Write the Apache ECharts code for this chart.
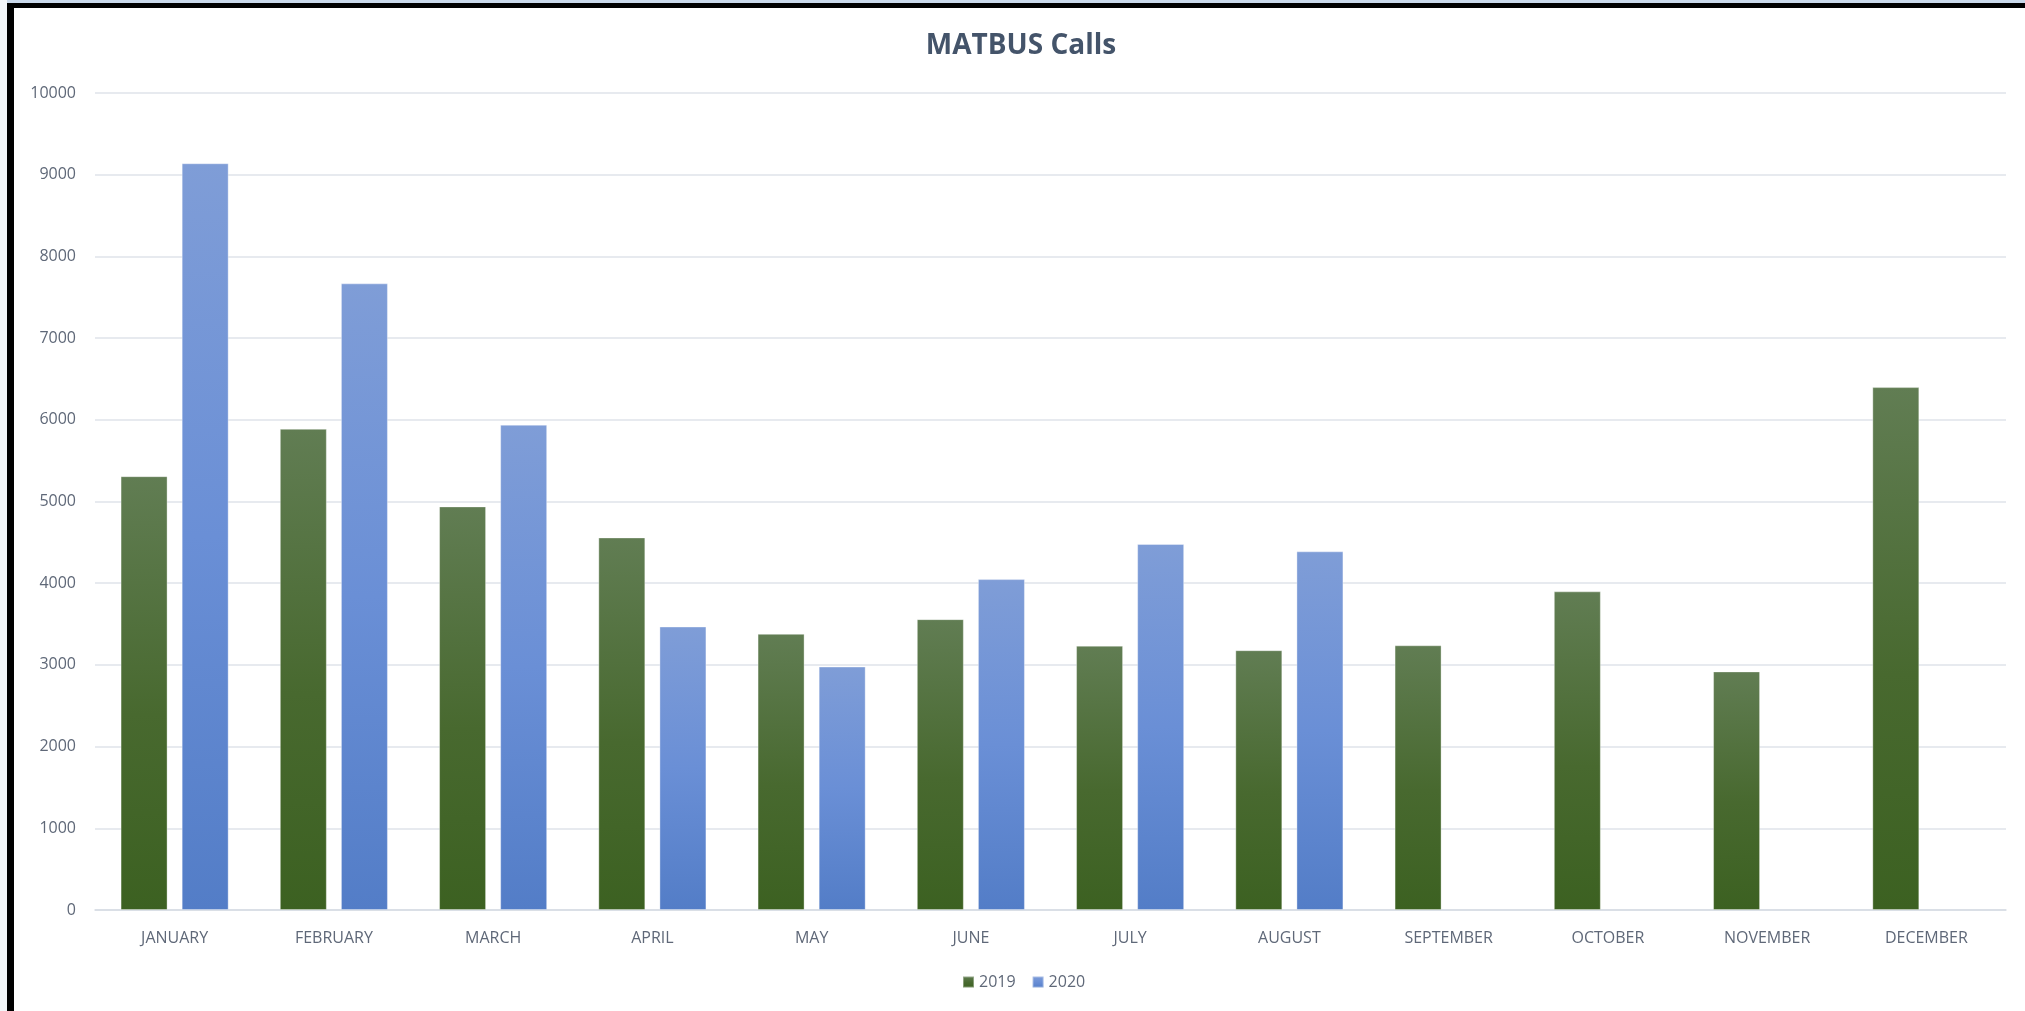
<!DOCTYPE html>
<html>
<head>
<meta charset="utf-8">
<script src="https://cdn.jsdelivr.net/npm/echarts@6/dist/echarts.min.js"></script>
<style>
html,body{margin:0;padding:0;background:#ffffff;}
#chart{width:2025px;height:1011px;}
</style>
</head>
<body>
<div id="chart"></div>
<script>
const months = ['JANUARY','FEBRUARY','MARCH','APRIL','MAY','JUNE','JULY','AUGUST','SEPTEMBER','OCTOBER','NOVEMBER','DECEMBER'];
const calls2019 = [5310, 5890, 4940, 4560, 3380, 3560, 3235, 3180, 3240, 3900, 2920, 6400];
const calls2020 = [9140, 7670, 5940, 3470, 2980, 4050, 4480, 4390, null, null, null, null];
const seriesNames = ['2019', '2020'];
const titleText = 'MATBUS Calls';

const FONT = '"Open Sans", Lato, sans-serif';
const labelColor = '#5f6878';

const chart = echarts.init(document.getElementById('chart'), null, {renderer: 'canvas'});

const greenGrad = new echarts.graphic.LinearGradient(0, 0, 0, 1, [
  {offset: 0, color: '#617d53'},
  {offset: 0.55, color: '#48692f'},
  {offset: 1, color: '#3c6121'}
]);
const blueGrad = new echarts.graphic.LinearGradient(0, 0, 0, 1, [
  {offset: 0, color: '#7f9dd7'},
  {offset: 0.5, color: '#6a8fd6'},
  {offset: 1, color: '#537dc7'}
]);

chart.setOption({
  backgroundColor: '#ffffff',
  animation: false,
  title: {
    text: titleText,
    left: 1016,
    textAlign: 'center',
    top: 27,
    textStyle: {fontFamily: FONT, fontSize: 28, fontWeight: 'bold', color: '#44546a'}
  },
  legend: {
    data: seriesNames,
    bottom: 16,
    left: 957,
    itemWidth: 11,
    itemHeight: 11,
    itemGap: 16,
    icon: 'rect',
    textStyle: {fontFamily: FONT, fontSize: 16, color: labelColor}
  },
  grid: {left: 95, right: 19, top: 93, bottom: 101, containLabel: false},
  xAxis: {
    type: 'category',
    data: months,
    axisLine: {show: true, lineStyle: {color: '#d6dbe4', width: 1.5}},
    axisTick: {show: false},
    axisLabel: {fontFamily: FONT, fontSize: 16, color: labelColor, margin: 20, interval: 0}
  },
  yAxis: {
    type: 'value',
    min: 0,
    max: 10000,
    interval: 1000,
    axisLine: {show: false},
    axisTick: {show: false},
    splitLine: {lineStyle: {color: '#dfe3ea', width: 1.5}},
    axisLabel: {fontFamily: FONT, fontSize: 16, color: labelColor, margin: 19,
      formatter: v => String(v)}
  },
  series: [
    {
      name: seriesNames[0],
      type: 'bar',
      data: calls2019,
      barWidth: 47,
      barGap: '30%',
      itemStyle: {color: greenGrad, borderColor: 'rgba(255,255,255,0.35)', borderWidth: 1}
    },
    {
      name: seriesNames[1],
      type: 'bar',
      data: calls2020,
      barWidth: 47,
      itemStyle: {color: blueGrad, borderColor: 'rgba(255,255,255,0.35)', borderWidth: 1}
    }
  ],
  graphic: [
    {type: 'rect', left: 0, top: 0, shape: {width: 2025, height: 3}, style: {fill: '#c9d8ea'}, silent: true},
    {type: 'rect', left: 0, top: 0, shape: {width: 7, height: 1011}, style: {fill: '#f3f6fa'}, silent: true},
    {type: 'rect', left: 7, top: 3, shape: {width: 2018, height: 5}, style: {fill: '#000000'}, silent: true},
    {type: 'rect', left: 7, top: 3, shape: {width: 7, height: 1008}, style: {fill: '#000000'}, silent: true}
  ]
});
</script>
</body>
</html>
